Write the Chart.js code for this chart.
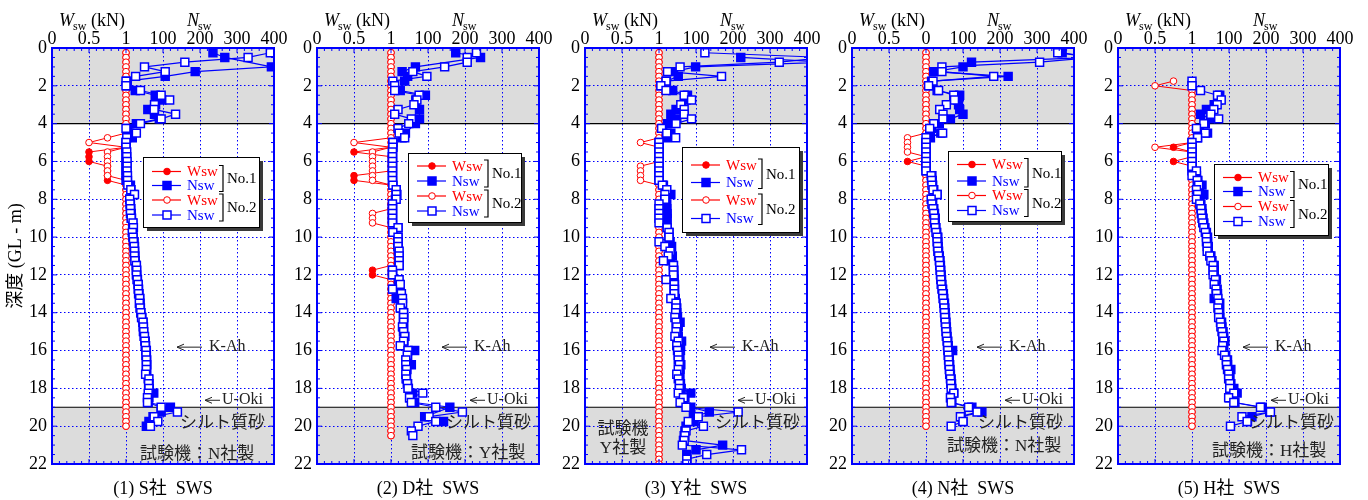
<!DOCTYPE html>
<html>
<head>
<meta charset="utf-8">
<script src="https://cdn.jsdelivr.net/npm/chart.js@4.4.1/dist/chart.umd.min.js"></script>
<style>
  body { margin: 0; background: #fff; width: 1368px; height: 500px; position: relative; overflow: hidden; }
  canvas { position: absolute; top: 0; }
</style>
</head>
<body>
<canvas id="c1" width="296" height="500" style="left:0px"></canvas>
<canvas id="c2" width="296" height="500" style="left:265px"></canvas>
<canvas id="c3" width="296" height="500" style="left:533px"></canvas>
<canvas id="c4" width="296" height="500" style="left:800px"></canvas>
<canvas id="c5" width="296" height="500" style="left:1066px"></canvas>
<script>
// 深度 (m) : 0.25 m 間隔
const DEPTH = [
  0.25, 0.5, 0.75, 1, 1.25, 1.5, 1.75, 2,
  2.25, 2.5, 2.75, 3, 3.25, 3.5, 3.75, 4,
  4.25, 4.5, 4.75, 5, 5.25, 5.5, 5.75, 6,
  6.25, 6.5, 6.75, 7, 7.25, 7.5, 7.75, 8,
  8.25, 8.5, 8.75, 9, 9.25, 9.5, 9.75, 10,
  10.25, 10.5, 10.75, 11, 11.25, 11.5, 11.75, 12,
  12.25, 12.5, 12.75, 13, 13.25, 13.5, 13.75, 14,
  14.25, 14.5, 14.75, 15, 15.25, 15.5, 15.75, 16,
  16.25, 16.5, 16.75, 17, 17.25, 17.5, 17.75, 18,
  18.25, 18.5, 18.75, 19, 19.25, 19.5, 19.75, 20,
  20.25, 20.5, 20.75, 21, 21.25, 21.5, 21.75, 22
];

// 上軸の目盛ラベル (Wsw 0..1 kN / Nsw 0..400)
const X_TICKS = ['0', '0.5', '1', '100', '200', '300', '400'];
const X_TICKS_N = ['0', '0.5', '0', '100', '200', '300', '400'];

// ---- (1) S社 ----
const WSW1_S = [
  1, 1, 1, 1, 1, 1, 1, 1,
  1, 1, 1, 1, 1, 1, 1, 1,
  1, 1, 1, 1, 1, 0.5, 0.5, 0.5,
  0.75, 0.75, 0.75, 0.75, 1, 1, 1, 1,
  1, 1, 1, 1, 1, 1, 1, 1,
  1, 1, 1, 1, 1, 1, 1, 1,
  1, 1, 1, 1, 1, 1, 1, 1,
  1, 1, 1, 1, 1, 1, 1, 1,
  1, 1, 1, 1, 1, 1, 1, 1,
  1, 1, 1, 1, 1, 1, 1, 1
];
const NSW1_S = [
  235, 267, null, 393, 187, 106, 3, 3,
  25, 79, 97, 80, 59, 77, 90, 28,
  5, 10, 17, 0, 0, 0, 0, 0,
  0, 0, 0, 0, 12, 13, 20, 10,
  12, 13, 14, 15, 18, 19, 18, 19,
  22, 23, 23, 24, 25, 28, 28, 29,
  31, 33, 34, 35, 37, 38, 39, 40,
  43, 46, 47, 47, 49, 52, 53, 55,
  55, 56, 56, 56, 55, 60, 62, 63,
  75, 62, 60, 120, 95, 73, 62, 55
];
const WSW2_S = [
  1, 1, 1, 1, 1, 1, 1, 1,
  1, 1, 1, 1, 1, 1, 1, 1,
  1, 1, 0.75, 0.5, 1, 0.75, 0.75, 0.75,
  0.75, 0.75, 0.75, 1, 1, 1, 1, 1,
  1, 1, 1, 1, 1, 1, 1, 1,
  1, 1, 1, 1, 1, 1, 1, 1,
  1, 1, 1, 1, 1, 1, 1, 1,
  1, 1, 1, 1, 1, 1, 1, 1,
  1, 1, 1, 1, 1, 1, 1, 1,
  1, 1, 1, 1, 1, 1, 1, 1
];
const NSW2_S = [
  390, 330, 159, 50, 106, 26, 0, 0,
  39, 95, 118, 77, 76, 134, 95, 39,
  0, 28, 2, 0, 0, 2, 2, 3,
  3, 3, 4, 4, 5, 13, 23, 10,
  11, 12, 12, 14, 19, 20, 17, 19,
  20, 22, 23, 23, 24, 28, 29, 28,
  30, 33, 33, 34, 37, 36, 38, 40,
  42, 46, 47, 48, 50, 51, 52, 54,
  54, 55, 55, 55, 53, 62, 61, 62,
  60, 58, 58, 95, 139, 76, 86, 66
];

// ---- (2) D社 ----
const WSW1_D = [
  1, 1, 1, 1, 1, 1, 1, 1,
  1, 1, 1, 1, 1, 1, 1, 1,
  1, 1, 1, 1, 1, 0.5, 1, 1,
  1, 1, 0.5, 0.5, 1, 1, 1, 1,
  1, 1, 1, 1, 1, 1, 1, 1,
  1, 1, 1, 1, 1, 1, 0.75, 0.75,
  1, 1, 1, 1, 1, 1, 1, 1,
  1, 1, 1, 1, 1, 1, 1, 1,
  1, 1, 1, 1, 1, 1, 1, 1,
  1, 1, 1, 1, 1, 1, 1, 1,
  1, 1
];
const NSW1_D = [
  175, 242, null, 66, 30, 45, 37, null,
  25, 93, 67, null, 77, null, 77, 66,
  null, 39, 30, 5, 5, 4, 4, 4,
  4, 4, 4, 4, 5, 14, 16, 12,
  4, 4, 4, 4, 4, 19, 5, 19,
  19, 19, 20, 22, 22, 22, 4, 4,
  20, 22, 5, 28, 14, 31, 26, 34,
  34, 34, 32, 34, 37, 35, 27, 64,
  45, 41, 55, 43, 41, 42, 45, 47,
  59, 51, 64, 159, null, 91, 142, null,
  null, null
];
const WSW2_D = [
  1, 1, 1, 1, 1, 1, 1, 1,
  1, 1, 1, 1, 1, 1, 1, 1,
  1, 1, 1, 0.5, 1, 0.75, 0.75, 0.75,
  0.75, 0.75, 0.75, 0.75, 1, 1, 1, 1,
  1, 1, 0.75, 0.75, 0.75, 1, 1, 1,
  1, 1, 1, 1, 1, 1, 1, 1,
  1, 1, 1, 1, 1, 1, 1, 1,
  1, 1, 1, 1, 1, 1, 1, 1,
  1, 1, 1, 1, 1, 1, 1, 1,
  1, 1, 1, 1, 1, 1, 1, 1,
  1, 1
];
const NSW2_D = [
  231, 206, 206, 145, 59, 97, 5, 10,
  10, 76, 70, 62, 19, 10, 55, 48,
  19, 22, 37, 5, 5, 4, 4, 4,
  4, 4, 4, 4, 5, 14, 14, 14,
  4, 4, 4, 4, 4, 19, 5, 19,
  19, 19, 22, 22, 22, 22, 4, 4,
  22, 25, 4, 28, 31, 31, 25, 34,
  34, 34, 31, 34, 37, 34, 25, 46,
  44, 40, 40, 42, 40, 41, 44, 46,
  86, 50, 55, 121, 193, 103, 121, 73,
  55, 59
];

// ---- (3) Y社 ----
const WSW1_Y = [
  1, 1, 1, 1, 1, 1, 1, 1,
  1, 1, 1, 1, 1, 1, 1, 1,
  1, 1, 1, 1, 1, 1, 1, 1,
  1, 1, 1, 1, 1, 1, 1, 1,
  1, 1, 1, 1, 1, 1, 1, 1,
  1, 1, 1, 1, 1, 1, 1, 1,
  1, 1, 1, 1, 1, 1, 1, 1,
  1, 1, 1, 1, 1, 1, 1, 1,
  1, 1, 1, 1, 1, 1, 1, 1,
  1, 1, 1, 1, 1, 1, 1, 1,
  1, 1, 1, 1, 1, 1, 1, 1
];
const NSW1_Y = [
  null, 221, 450, 99, 39, 52, 20, 5,
  37, 77, 73, 60, 46, 32, 48, 23,
  10, 32, 20, 0, 0, 0, 0, 0,
  0, 0, 0, 0, 12, 20, 32, 16,
  21, 21, 22, 22, 21, 22, 27, 27,
  30, 34, 32, 36, 30, 39, 40, 40,
  41, 42, 42, 42, 44, 46, 48, 48,
  50, 57, 52, 50, 52, 61, 58, 58,
  56, 56, 59, 57, 56, 56, 58, 60,
  86, 70, 65, 86, 136, 93, 95, 73,
  70, 68, 66, 172, 100, 75, 75, null
];
const WSW2_Y = [
  1, 1, 1, 1, 1, 1, 1, 1,
  1, 1, 1, 1, 1, 1, 1, 1,
  1, 1, 1, 0.75, 1, 1, 1, 1,
  0.75, 0.75, 0.75, 0.75, 1, 1, 1, 1,
  1, 1, 1, 1, 1, 1, 1, 1,
  1, 1, 1, 1, 1, 1, 1, 1,
  1, 1, 1, 1, 1, 1, 1, 1,
  1, 1, 1, 1, 1, 1, 1, 1,
  1, 1, 1, 1, 1, 1, 1, 1,
  1, 1, 1, 1, 1, 1, 1, 1,
  1, 1, 1, 1, 1, 1, 1, 1
];
const NSW2_Y = [
  124, 450, 325, 57, 23, 169, 19, 5,
  19, 68, 88, 59, 68, 68, 88, 46,
  7, 21, 45, 0, 0, 0, 0, 0,
  0, 0, 0, 0, 9, 21, 16, 16,
  0, 0, 0, 0, 0, 22, 27, 27,
  0, 16, 30, 25, 12, 39, 39, 39,
  19, 41, 41, 41, 32, 46, 46, 45,
  43, 46, 48, 46, 43, 52, 48, 50,
  52, 52, 55, 52, 48, 52, 55, 55,
  52, 66, 57, 73, 214, 106, 79, 120,
  73, 70, 68, 63, 223, 129, 75, 75
];

// ---- (4) N社 ----
const WSW1_N = [
  1, 1, 1, 1, 1, 1, 1, 1,
  1, 1, 1, 1, 1, 1, 1, 1,
  1, 1, 1, 1, 1, 1, 1, 0.75,
  1, 1, 1, 1, 1, 1, 1, 1,
  1, 1, 1, 1, 1, 1, 1, 1,
  1, 1, 1, 1, 1, 1, 1, 1,
  1, 1, 1, 1, 1, 1, 1, 1,
  1, 1, 1, 1, 1, 1, 1, 1,
  1, 1, 1, 1, 1, 1, 1, 1,
  1, 1, 1, 1, 1, 1, 1, 1
];
const NSW1_N = [
  368, 450, 123, 100, 21, 222, 15, 8,
  30, 91, 85, 88, 91, 100, 66, 36,
  15, 40, 12, 0, 0, 0, 0, 0,
  0, 0, 16, 17, 18, 21, 30, 16,
  18, 21, 23, 25, 25, 27, 29, 32,
  32, 33, 34, 36, 38, 39, 40, 41,
  42, 43, 45, 47, 48, 50, 51, 52,
  53, 54, 55, 56, 57, 59, 60, 72,
  62, 63, 64, 65, 66, 68, 69, 70,
  75, 68, 70, 124, 151, 95, 100, null
];
const WSW2_N = [
  1, 1, 1, 1, 1, 1, 1, 1,
  1, 1, 1, 1, 1, 1, 1, 1,
  1, 1, 0.75, 0.75, 0.75, 0.75, 1, 1,
  1, 1, 1, 1, 1, 1, 1, 1,
  1, 1, 1, 1, 1, 1, 1, 1,
  1, 1, 1, 1, 1, 1, 1, 1,
  1, 1, 1, 1, 1, 1, 1, 1,
  1, 1, 1, 1, 1, 1, 1, 1,
  1, 1, 1, 1, 1, 1, 1, 1,
  1, 1, 1, 1, 1, 1, 1, 1
];
const NSW2_N = [
  356, 450, 307, 43, 43, 183, 19, 7,
  34, 75, 77, 55, 37, 46, 46, 21,
  10, 45, 0, 0, 0, 0, 0, 0,
  0, 0, 14, 15, 16, 19, 30, 14,
  16, 19, 21, 23, 23, 25, 27, 30,
  30, 31, 32, 34, 36, 37, 38, 39,
  40, 41, 43, 45, 46, 48, 49, 50,
  51, 52, 53, 54, 55, 57, 58, 59,
  60, 61, 62, 63, 64, 66, 67, 68,
  75, 66, 68, 115, 138, 93, 100, 68
];

// ---- (5) H社 ----
const WSW1_H = [
  null, null, null, null, null, null, null, null,
  1, 1, 1, 1, 1, 1, 1, 1,
  1, 1, 1, 1, 0.75, 1, 1, 0.75,
  1, 1, 1, 1, 1, 1, 1, 1,
  1, 1, 1, 1, 1, 1, 1, 1,
  1, 1, 1, 1, 1, 1, 1, 1,
  1, 1, 1, 1, 1, 1, 1, 1,
  1, 1, 1, 1, 1, 1, 1, 1,
  1, 1, 1, 1, 1, 1, 1, 1,
  1, 1, 1, 1, 1, 1, 1, 1
];
const NSW1_H = [
  null, null, null, null, null, null, null, null,
  null, 75, 72, 60, 39, 23, 50, 36,
  20, 42, 15, 0, 0, 0, 0, 0,
  0, 0, 12, 16, 27, 20, 32, 20,
  24, 27, 28, 30, 32, 35, 39, 42,
  42, 44, 44, 51, 54, 60, 60, 60,
  66, 63, 68, 69, 60, 75, 73, 75,
  75, 80, 81, 84, 86, 89, 86, 84,
  91, 96, 96, 105, 102, 102, 105, 113,
  122, 102, 116, 190, 210, 162, 150, null
];
const WSW2_H = [
  null, null, null, null, null, null, 0.75, 0.5,
  1, 1, 1, 1, 1, 1, 1, 1,
  1, 1, 1, 1, 0.5, 1, 1, 1,
  1, 1, 1, 1, 1, 1, 1, 1,
  1, 1, 1, 1, 1, 1, 1, 1,
  1, 1, 1, 1, 1, 1, 1, 1,
  1, 1, 1, 1, 1, 1, 1, 1,
  1, 1, 1, 1, 1, 1, 1, 1,
  1, 1, 1, 1, 1, 1, 1, 1,
  1, 1, 1, 1, 1, 1, 1, 1
];
const NSW2_H = [
  null, null, null, null, null, null, 0, 0,
  23, 69, 79, 68, 59, 51, 72, 32,
  12, 36, 15, 0, 0, 0, 0, 0,
  0, 12, 0, 14, 18, 12, 15, 12,
  21, 24, 25, 27, 29, 32, 36, 39,
  39, 41, 41, 48, 51, 57, 57, 57,
  63, 60, 65, 66, 70, 72, 70, 72,
  72, 77, 78, 81, 83, 86, 83, 81,
  88, 93, 93, 96, 99, 99, 102, 102,
  113, 99, 113, 185, 212, 135, 149, 104
];

// 地層境界と網掛け
const SHADES = [[0, 4], [19, 22]];
const BOUNDS = [4, 19];

const BLUE = '#0000ff';
const RED = '#ff0000';
const INK = '#222222';
const SERIF = '"Liberation Serif", "Noto Sans CJK JP", serif';
const CJK = '"Noto Sans CJK JP", sans-serif';

const LEGEND_ITEMS = [
  { text: 'Wsw', color: RED, shape: 'circle', fill: RED },
  { text: 'Nsw', color: BLUE, shape: 'square', fill: BLUE },
  { text: 'Wsw', color: RED, shape: 'circle', fill: '#fff' },
  { text: 'Nsw', color: BLUE, shape: 'square', fill: '#fff' }
];

const PANELS = [
  { id: 'c1', xTicks: X_TICKS, caption: '(1) S社  SWS', yTitle: true,
    w1: WSW1_S, n1: NSW1_S, w2: WSW2_S, n2: NSW2_S,
    legend: { dx: 91, top: 157, w: 116, h: 70, rows: [14.5, 28.5, 43, 58] },
    maker: { lines: ['試験機：N社製'], dx: 88, d: [21.5], align: 'left' }, siltDx: 128 },
  { id: 'c2', xTicks: X_TICKS, caption: '(2) D社  SWS',
    w1: WSW1_D, n1: NSW1_D, w2: WSW2_D, n2: NSW2_D,
    legend: { dx: 91, top: 153, w: 113, h: 69, rows: [13, 28, 43, 58] },
    maker: { lines: ['試験機：Y社製'], dx: 94, d: [21.45], align: 'left' }, siltDx: 129 },
  { id: 'c3', xTicks: X_TICKS, caption: '(3) Y社  SWS',
    w1: WSW1_Y, n1: NSW1_Y, w2: WSW2_Y, n2: NSW2_Y,
    legend: { dx: 97, top: 147, w: 117, h: 85, rows: [18, 35.5, 53, 71.5] },
    maker: { lines: ['試験機', 'Y社製'], dx: 38, d: [20.2, 21.2], align: 'center' }, siltDx: 130 },
  { id: 'c4', xTicks: X_TICKS_N, caption: '(4) N社  SWS',
    w1: WSW1_N, n1: NSW1_N, w2: WSW2_N, n2: NSW2_N,
    legend: { dx: 96, top: 151, w: 113, h: 70, rows: [13.5, 30, 44.5, 59.5] },
    maker: { lines: ['試験機：N社製'], dx: 95, d: [21.1], align: 'left' }, siltDx: 126 },
  { id: 'c5', xTicks: X_TICKS, caption: '(5) H社  SWS',
    w1: WSW1_H, n1: NSW1_H, w2: WSW2_H, n2: NSW2_H,
    legend: { dx: 96, top: 164, w: 114, h: 71, rows: [13.5, 27.5, 42.5, 57.5] },
    maker: { lines: ['試験機：H社製'], dx: 94, d: [21.35], align: 'left' }, siltDx: 131 }
];

function points(values) {
  return DEPTH.map((d, i) => ({ x: values[i], y: d }))
              .filter(p => p.x !== null && p.x !== undefined);
}

function line(ctx, x1, y1, x2, y2) {
  ctx.beginPath();
  ctx.moveTo(x1, y1);
  ctx.lineTo(x2, y2);
  ctx.stroke();
}

function marker(ctx, it, x, y) {
  ctx.lineWidth = it.shape === 'square' ? 1.5 : 1;
  ctx.strokeStyle = it.color;
  ctx.fillStyle = it.fill;
  ctx.beginPath();
  if (it.shape === 'circle') ctx.arc(x, y, 3.3, 0, Math.PI * 2);
  else ctx.rect(x - 4, y - 4, 8, 8);
  ctx.fill();
  ctx.stroke();
}

function arrow(ctx, tip, tail, y) {
  ctx.strokeStyle = '#222';
  ctx.lineWidth = 1;
  line(ctx, tip, y, tail, y);
  line(ctx, tip, y, tip + 7, y - 3);
  line(ctx, tip, y, tip + 7, y + 3);
}

function subText(ctx, main, sub, x, y) {
  ctx.font = 'italic 18px ' + SERIF;
  ctx.fillText(main, x, y);
  const w = ctx.measureText(main).width;
  ctx.font = '12px ' + SERIF;
  ctx.fillText(sub, x + w - 1, y + 4);
}

function makeDeco(p) {
  return {
    id: 'deco',
    beforeDraw(chart) {
      const { ctx, chartArea: a } = chart;
      const y = chart.scales.y;
      ctx.save();
      ctx.fillStyle = '#dcdcdc';
      for (const [d0, d1] of SHADES) {
        const y0 = y.getPixelForValue(d0), y1 = y.getPixelForValue(d1);
        ctx.fillRect(a.left, y0, a.right - a.left, y1 - y0);
      }
      ctx.restore();
    },
    beforeDatasetsDraw(chart) {
      const { ctx, chartArea: a } = chart;
      const y = chart.scales.y;
      ctx.save();
      ctx.strokeStyle = '#000';
      ctx.lineWidth = 1.2;
      for (const d of BOUNDS) {
        const py = y.getPixelForValue(d);
        line(ctx, a.left, py, a.right, py);
      }
      ctx.restore();
    },
    afterDatasetsDraw(chart) {
      const { ctx, chartArea: a } = chart;
      const { x, y } = chart.scales;
      ctx.save();
      ctx.strokeStyle = BLUE;
      ctx.lineWidth = 1;
      // 内向き目盛
      for (let v = -200; v <= 400; v += 20) {
        const px = x.getPixelForValue(v);
        const len = v % 100 === 0 ? 5 : 3;
        line(ctx, px, a.top, px, a.top + len);
        line(ctx, px, a.bottom, px, a.bottom - len);
      }
      for (let d = 0; d <= 22; d += 0.5) {
        const py = y.getPixelForValue(d);
        const len = d % 2 === 0 ? 5 : 3;
        line(ctx, a.left, py, a.left + len, py);
        line(ctx, a.right, py, a.right - len, py);
      }
      ctx.lineWidth = 2;
      ctx.strokeRect(a.left, a.top, a.right - a.left, a.bottom - a.top);
      ctx.restore();
    },
    afterDraw(chart) {
      const { ctx, chartArea: a } = chart;
      const y = chart.scales.y;
      ctx.save();

      // 軸タイトル
      ctx.fillStyle = '#000';
      ctx.textAlign = 'left';
      ctx.textBaseline = 'alphabetic';
      subText(ctx, 'W', 'sw', a.left + 7, 26);
      ctx.font = '18px ' + SERIF;
      ctx.fillText('(kN)', a.left + 39, 26);
      subText(ctx, 'N', 'sw', a.left + 135, 26);

      // 凡例
      const L = p.legend;
      const x0 = a.left + L.dx, y0 = L.top;
      ctx.fillStyle = '#3a3a3a';
      ctx.fillRect(x0 + 4, y0 + 4, L.w, L.h);
      ctx.fillStyle = '#fff';
      ctx.fillRect(x0, y0, L.w, L.h);
      ctx.strokeStyle = '#000';
      ctx.lineWidth = 1;
      ctx.strokeRect(x0 + 0.5, y0 + 0.5, L.w, L.h);
      ctx.textBaseline = 'middle';
      LEGEND_ITEMS.forEach((it, i) => {
        const yy = y0 + L.rows[i];
        ctx.strokeStyle = it.color;
        ctx.lineWidth = 1.2;
        line(ctx, x0 + 9, yy, x0 + 38, yy);
        marker(ctx, it, x0 + 24, yy);
        ctx.fillStyle = it.color;
        ctx.font = '15px ' + SERIF;
        ctx.fillText(it.text, x0 + 44, yy + 1);
      });
      [[0, 'No.1'], [2, 'No.2']].forEach(([i, lab]) => {
        const ya = y0 + L.rows[i] - 6, yb = y0 + L.rows[i + 1] + 6, bx = x0 + 80;
        ctx.strokeStyle = '#000';
        ctx.lineWidth = 1.2;
        ctx.beginPath();
        ctx.moveTo(bx - 4, ya);
        ctx.lineTo(bx, ya);
        ctx.lineTo(bx, yb);
        ctx.lineTo(bx - 4, yb);
        ctx.stroke();
        ctx.fillStyle = '#000';
        ctx.font = '15px ' + SERIF;
        ctx.fillText(lab, bx + 4, (ya + yb) / 2 + 1);
      });

      // 地層の注記
      ctx.fillStyle = INK;
      ctx.font = '16px ' + SERIF;
      const yk = y.getPixelForValue(15.82);
      arrow(ctx, a.left + 125, a.left + 150, yk);
      ctx.fillText('K-Ah', a.left + 157, yk);
      const yu = y.getPixelForValue(18.63);
      arrow(ctx, a.left + 153, a.left + 168, yu);
      ctx.fillText('U-Oki', a.left + 170, yu);

      ctx.font = '17px ' + CJK;
      ctx.fillText('シルト質砂', a.left + p.siltDx, y.getPixelForValue(19.75));

      ctx.font = '17px ' + SERIF;
      ctx.textAlign = p.maker.align;
      p.maker.lines.forEach((t, i) => {
        ctx.fillText(t, a.left + p.maker.dx, y.getPixelForValue(p.maker.d[i]));
      });

      // 図番号
      ctx.fillStyle = '#000';
      ctx.textAlign = 'center';
      ctx.font = '18px ' + SERIF;
      ctx.fillText(p.caption, (a.left + a.right) / 2, 489);
      ctx.restore();
    }
  };
}

const gridLine = { color: BLUE, lineWidth: 1, drawTicks: false };
const gridBorder = { display: false, dash: [1.5, 2.5] };
const tickFont = { family: SERIF, size: 18, lineHeight: 1 };

for (const p of PANELS) {
  const ctx = document.getElementById(p.id).getContext('2d');
  new Chart(ctx, {
    type: 'line',
    data: {
      datasets: [
        { label: 'Wsw No.1', xAxisID: 'xw', data: points(p.w1), order: 3,
          borderColor: RED, borderWidth: 1, pointStyle: 'circle', pointRadius: 3.3,
          pointBackgroundColor: RED, pointBorderColor: RED, pointBorderWidth: 1 },
        { label: 'Nsw No.1', xAxisID: 'x', data: points(p.n1), order: 1,
          borderColor: BLUE, borderWidth: 1.2, pointStyle: 'rect', pointRadius: 5.6,
          pointBackgroundColor: BLUE, pointBorderColor: BLUE, pointBorderWidth: 1.5 },
        { label: 'Wsw No.2', xAxisID: 'xw', data: points(p.w2), order: 2,
          borderColor: RED, borderWidth: 1, pointStyle: 'circle', pointRadius: 3.3,
          pointBackgroundColor: '#fff', pointBorderColor: RED, pointBorderWidth: 1 },
        { label: 'Nsw No.2', xAxisID: 'x', data: points(p.n2), order: 0,
          borderColor: BLUE, borderWidth: 1.2, pointStyle: 'rect', pointRadius: 5.6,
          pointBackgroundColor: '#fff', pointBorderColor: BLUE, pointBorderWidth: 1.5 }
      ]
    },
    options: {
      responsive: false,
      animation: false,
      events: [],
      layout: { padding: { top: 0, left: 0, right: 22, bottom: 36 } },
      plugins: { legend: { display: false }, tooltip: { enabled: false } },
      scales: {
        x: {
          type: 'linear', position: 'top', min: -200, max: 400,
          ticks: {
            stepSize: 100, autoSkip: false, maxRotation: 0, padding: 0,
            color: '#000', font: tickFont,
            callback: v => p.xTicks[Math.round((v + 200) / 100)]
          },
          grid: gridLine,
          border: gridBorder,
          afterFit: s => { s.height = 48; }
        },
        xw: { type: 'linear', display: false, min: 0, max: 3 },
        y: {
          type: 'linear', reverse: true, min: 0, max: 22,
          ticks: { stepSize: 2, padding: 5, color: '#000', font: tickFont },
          grid: gridLine,
          border: gridBorder,
          title: {
            display: !!p.yTitle, text: '深度 (GL - m)', color: '#000',
            font: { family: SERIF, size: 18 }, padding: { top: 5, bottom: 0 }
          },
          afterFit: s => { s.width = 52; }
        }
      }
    },
    plugins: [makeDeco(p)]
  });
}
</script>
</body>
</html>
